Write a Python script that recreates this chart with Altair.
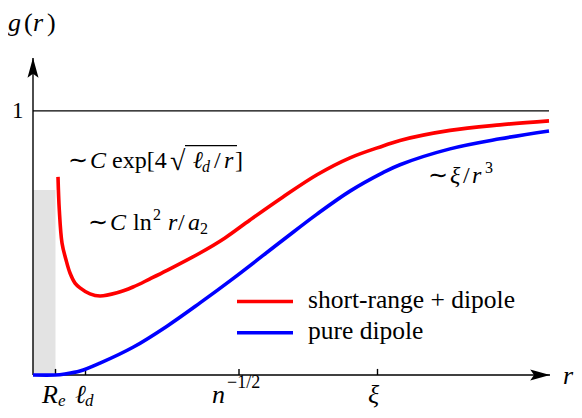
import altair as alt
import pandas as pd

# ---- data (schematic units: r along the axis, g(r) with g=1 the asymptote) ----
r_red = [25, 26.3, 29, 33, 37, 42, 47, 57, 67, 84, 100, 117, 134, 167, 192, 217,
         250, 284, 317, 350, 367, 417, 467, 516]
g_red = [0.750, 0.625, 0.500, 0.436, 0.386, 0.348, 0.330, 0.307, 0.299, 0.311,
         0.333, 0.364, 0.396, 0.462, 0.519, 0.587, 0.674, 0.758, 0.822, 0.867,
         0.888, 0.926, 0.947, 0.962]
r_blue = [0, 22, 32, 47, 67, 100, 134, 167, 200, 250, 284, 317, 350, 367,
          417, 467, 516]
g_blue = [0, 0, 0.004, 0.015, 0.045, 0.105, 0.185, 0.273, 0.365, 0.511,
          0.609, 0.696, 0.766, 0.796, 0.856, 0.894, 0.924]
series_names = ["short-range + dipole", "pure dipole"]
series_colors = ["#ff0000", "#0000ff"]

tick_r = [22.5, 52.5, 206, 344.5]
core_r = [0, 22.5]
core_g = [0, 0.70]
r_max = 516
g_max = 1.2

SERIF = "Liberation Serif"

# ---- scales ----
xs = alt.Scale(domain=[0, r_max], nice=False, zero=False)
ys = alt.Scale(domain=[0, g_max], nice=False, zero=False)
def X(f="x"):
    return alt.X(f"{f}:Q", scale=xs, axis=None)
def Y(f="y"):
    return alt.Y(f"{f}:Q", scale=ys, axis=None)

curves = pd.DataFrame(
    [{"x": a, "y": b, "s": series_names[0]} for a, b in zip(r_red, g_red)]
    + [{"x": a, "y": b, "s": series_names[1]} for a, b in zip(r_blue, g_blue)]
)
color = alt.Color("s:N", scale=alt.Scale(domain=series_names, range=series_colors), legend=None)

core = alt.Chart(pd.DataFrame({"x": [core_r[0]], "x2": [core_r[1]],
                               "y": [core_g[0]], "y2": [core_g[1]]})).mark_rect(
    color="#e3e3e3").encode(x=X(), x2="x2:Q", y=Y(), y2="y2:Q")

segs = pd.DataFrame({
    "x": [0, 0, 0] + tick_r,
    "x2": [r_max, r_max + 1, 0] + tick_r,
    "y": [1, 0, 0] + [0] * len(tick_r),
    "y2": [1, 0, g_max] + [0.023] * len(tick_r),
})
axes = alt.Chart(segs).mark_rule(color="black", strokeWidth=1.4).encode(
    x=X(), x2="x2:Q", y=Y(), y2="y2:Q")

lines = alt.Chart(curves).mark_line(strokeWidth=3.6, interpolate="catmull-rom", clip=False).encode(
    x=X(), y=Y(), color=color, detail="s:N")

arrow_path = "M0,-1L0.5,0.8L0,0.45L-0.5,0.8Z"
arrows = alt.Chart(pd.DataFrame({"x": [0, 506], "y": [1.159, 0], "a": [0, 90]})).mark_point(
    shape=arrow_path, size=484, filled=True, color="black", opacity=1, strokeWidth=0
).encode(x=X(), y=Y(), angle=alt.Angle("a:Q", scale=None))

# legend
leg = pd.DataFrame({"x": [204, 204], "x2": [260, 260], "y": [0.278, 0.160],
                    "s": series_names})
leg_lines = alt.Chart(leg).mark_rule(strokeWidth=3.6).encode(
    x=X(), x2="x2:Q", y=Y(), color=color)
leg_text = alt.Chart(pd.DataFrame({"x": [275, 275], "y": [0.254, 0.136],
                                   "t": series_names})).mark_text(
    align="left", baseline="alphabetic", font=SERIF, fontSize=25.5
).encode(x=X(), y=Y(), text="t:N")

# math text pieces: (text, r, g, size, italic)
pieces = [
    ("g", -25, 1.303, 26, True), ("(", -9, 1.303, 26, False),
    ("r", 0, 1.303, 26, True), (")", 14, 1.303, 26, False),
    ("1", -21, 0.973, 23, False),
    ("R", 9, -0.106, 26, True), ("e", 25, -0.119, 17, True),
    ("ℓ", 42, -0.106, 26, True), ("d", 52, -0.119, 17, True),
    ("n", 179, -0.106, 26, True), ("−1/2", 194, -0.049, 18, False),
    ("ξ", 335, -0.106, 26, True),
    ("r", 530, -0.034, 26, True),
    ("∼", 35, 0.784, 24, False), ("C", 57, 0.784, 24, True),
    ("exp[4", 79, 0.784, 24, False), ("√", 137, 0.777, 28, False),
    ("ℓ", 160, 0.784, 24, True), ("d", 169, 0.769, 16, True),
    ("/", 181, 0.784, 24, False), ("r", 191, 0.784, 24, True),
    ("]", 202, 0.784, 24, False),
    ("∼", 55, 0.549, 24, False), ("C", 77, 0.549, 24, True),
    ("ln", 100, 0.549, 24, False), ("2", 120, 0.587, 16, False),
    ("r", 135, 0.549, 24, True), ("/", 145, 0.549, 24, False),
    ("a", 155, 0.549, 24, True), ("2", 167, 0.534, 16, False),
    ("∼", 395, 0.727, 24, False), ("ξ", 417, 0.727, 24, True),
    ("/", 430, 0.727, 24, False), ("r", 439, 0.727, 24, True),
    ("3", 452, 0.765, 16, False),
]
pdf = pd.DataFrame(pieces, columns=["t", "x", "y", "size", "it"])

def text_layer(italic):
    return alt.Chart(pdf[pdf["it"] == italic]).mark_text(
        align="left", baseline="alphabetic", font=SERIF,
        fontStyle="italic" if italic else "normal"
    ).encode(x=X(), y=Y(), text="t:N", size=alt.Size("size:Q", scale=None))

overbar = alt.Chart(pd.DataFrame({"x": [152], "x2": [204], "y": [0.868]})).mark_rule(
    color="black", strokeWidth=1.2).encode(x=X(), x2="x2:Q", y=Y())

chart = alt.layer(
    core, axes, lines, arrows, leg_lines, leg_text,
    text_layer(True), text_layer(False), overbar
).properties(
    width=516, height=317,
    autosize=alt.AutoSizeParams(type="none"),
    padding={"left": 25, "top": 50, "right": 25, "bottom": 35},
).configure_view(stroke=None)

chart.save("out.html", embed_options={"renderer": "svg", "actions": False})
